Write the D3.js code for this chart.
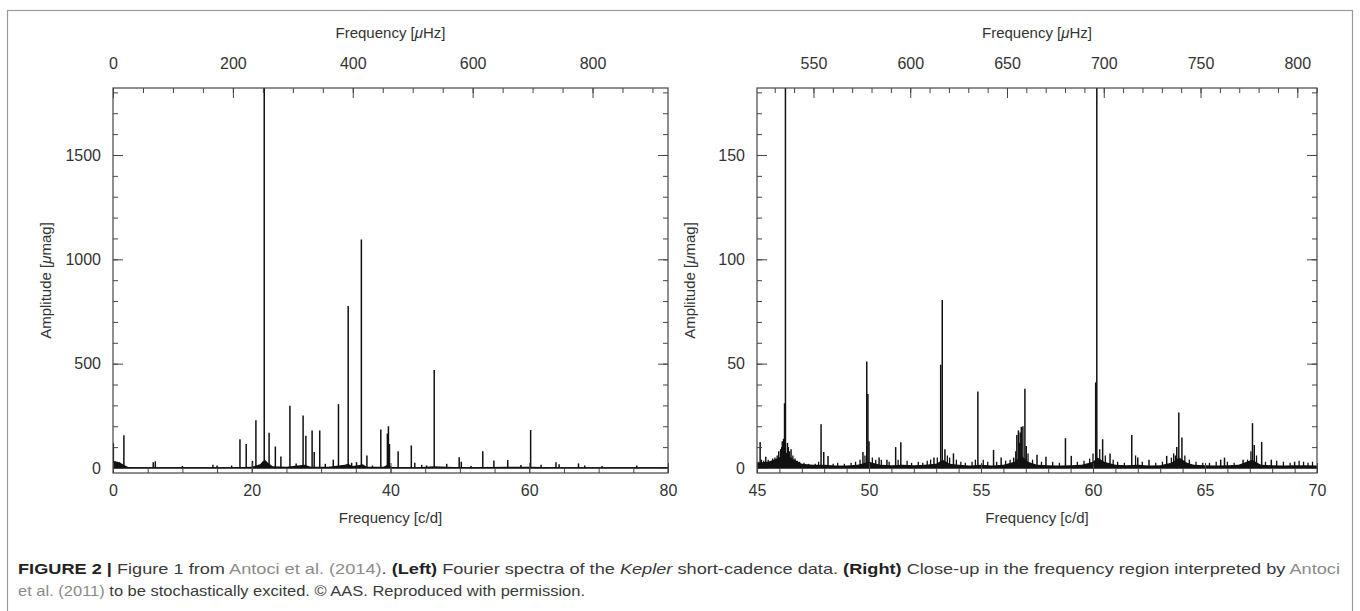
<!DOCTYPE html>
<html lang="en">
<head>
<meta charset="UTF-8">
<title>Kepler Fourier spectra</title>
<script src="https://d3js.org/d3.v7.min.js"></script>
<style>
  body { margin: 0; background: #fff; }
  svg { display: block; }
  .tick text { font-family: "Liberation Sans", Arial, sans-serif; font-size: 16px; fill: #333; }
  .tick line { stroke: #444; stroke-width: 1; }
  .axt { font-family: "Liberation Sans", Arial, sans-serif; font-size: 15px; fill: #333; }
  .cap { font-family: "Liberation Sans Narrow", "Liberation Sans", Arial, sans-serif; font-size: 15px; fill: #3a3a3a; }
</style>
</head>
<body>
<svg width="1360" height="611"></svg>
<script>
// 1 c/d in microHz
const CD2UHZ = 11.574;

// ---- left panel: full spectrum, [freq c/d, amplitude umag]
const leftPeaks = [
  [0.05, 118], [0.3, 32], [0.6, 30], [0.9, 28], [1.57, 157], [5.8, 28], [6.1, 32],
  [10.0, 10], [14.4, 15], [15.0, 12], [17.1, 12], [18.3, 138], [19.2, 115],
  [20.1, 34], [20.6, 229], [21.8, 2300], [22.5, 169], [23.4, 103], [24.2, 55],
  [25.5, 298], [26.4, 22], [27.4, 252], [27.8, 155], [28.7, 180], [29.0, 77], [29.8, 180],
  [30.6, 20], [31.75, 40], [32.5, 306], [33.9, 776], [34.4, 25], [35.1, 28], [35.8, 1095],
  [36.6, 60], [37.4, 12], [38.6, 185], [39.55, 165], [39.7, 200], [39.85, 115],
  [41.1, 80], [43.0, 108], [43.5, 25], [44.5, 15], [45.2, 12], [46.3, 470], [48.1, 20],
  [49.9, 51], [50.2, 30], [51.6, 10], [53.3, 80], [54.9, 36], [56.9, 38], [58.8, 14],
  [60.2, 182], [61.7, 16], [63.85, 27], [64.3, 18], [67.1, 22], [68.0, 12], [70.5, 10], [75.5, 12]
];
const leftFloor = [
  [0, 34], [0.5, 30], [1.0, 26], [1.6, 14], [2.2, 5], [4, 3], [8, 3], [12, 3], [17, 3],
  [20, 6], [21.2, 18], [21.6, 32], [21.9, 40], [22.3, 26], [23, 8], [25, 6], [27.2, 14],
  [27.6, 16], [28.5, 6], [31, 6], [33.4, 16], [33.9, 20], [34.5, 10], [35.5, 14], [36, 18],
  [36.6, 6], [39, 6], [39.7, 18], [40.2, 5], [44, 4], [46.3, 8], [50, 4], [56.9, 6], [60.2, 6],
  [64, 4], [70, 3], [80, 3]
];

// ---- right panel: close-up 45-70 c/d
const rightPeaks = [
  [45.14, 12.5], [45.39, 5.4], [45.97, 8], [46.13, 12.8], [46.23, 31], [46.27, 300],
  [46.36, 12], [46.52, 9], [47.86, 21], [47.98, 7.7], [48.17, 5.8], [49.73, 7.7],
  [49.9, 51], [49.95, 35.4], [50.0, 12.8], [50.45, 5], [50.8, 4], [51.19, 10], [51.42, 12.3],
  [52.9, 5], [53.2, 49.5], [53.27, 80.5], [53.39, 9], [53.77, 7], [54.86, 36.6], [55.56, 8.6],
  [55.9, 5], [56.46, 5], [56.6, 15.8], [56.67, 18], [56.75, 17], [56.8, 19.7], [56.87, 20],
  [56.96, 38], [57.02, 10.5], [57.5, 6.3], [57.9, 5.4], [58.77, 14.3], [59.03, 5.8],
  [60.12, 41], [60.17, 300], [60.43, 13.8], [60.76, 7], [61.73, 15.8], [62.0, 5], [62.5, 4],
  [63.29, 5.8], [63.68, 6], [63.74, 10], [63.83, 26.6], [63.97, 14.6], [65.7, 4], [65.87, 5],
  [66.7, 4], [67.12, 21.5], [67.2, 11], [67.53, 12.5], [67.96, 4], [69.0, 3]
];
const rightGrass = [
  [45.05, 3], [45.2, 4], [45.3, 3.5], [45.5, 4], [45.6, 3], [45.7, 4.5], [45.8, 5], [45.9, 6],
  [46.05, 9], [46.1, 10], [46.18, 14], [46.4, 10], [46.45, 8], [46.6, 6], [46.7, 4.5],
  [46.8, 3.5], [46.9, 3], [47.1, 2.5], [47.3, 2], [47.6, 2], [47.75, 3], [48.4, 2], [48.6, 2.5],
  [48.9, 2], [49.2, 2.5], [49.4, 3], [49.6, 4], [49.82, 6], [50.15, 5], [50.3, 4], [50.55, 4],
  [50.9, 3], [51.3, 4], [51.7, 3.5], [51.9, 2.5], [52.2, 3], [52.4, 2.5], [52.6, 3.5],
  [52.75, 4], [53.05, 5], [53.5, 6], [53.6, 5], [53.9, 4], [54.1, 3], [54.3, 2.5], [54.6, 3],
  [54.75, 4], [55.1, 4], [55.3, 3], [55.7, 3], [56.1, 3.5], [56.3, 4], [56.55, 8], [56.72, 12],
  [57.1, 7], [57.3, 4], [57.7, 3], [58.2, 3], [58.5, 2.5], [59.3, 3], [59.6, 3.5], [59.85, 4.5],
  [60.0, 7], [60.3, 9], [60.55, 6], [60.9, 4], [61.1, 3], [61.4, 2.5], [61.9, 6], [62.2, 3],
  [62.8, 2.5], [63.1, 3], [63.5, 5], [63.6, 7], [64.1, 6], [64.3, 4], [64.6, 3], [64.9, 2.5],
  [65.2, 2.5], [65.5, 3], [66.0, 3], [66.3, 2.5], [66.9, 4], [67.05, 8], [67.3, 6], [67.7, 3],
  [68.2, 3.5], [68.5, 3], [68.8, 2.5], [69.2, 3.5], [69.4, 3], [69.6, 2.5], [69.8, 3]
];
const rightFloor = [
  [45, 2.5], [45.5, 3], [46, 5], [46.25, 8], [46.5, 5], [47, 2], [47.5, 1.5], [48, 1.5],
  [48.5, 1.2], [49, 1.2], [49.5, 1.5], [50, 3], [50.5, 1.5], [51, 1.3], [51.5, 1.5], [52, 1.3],
  [52.5, 1.5], [53, 2], [53.3, 4], [53.6, 2], [54, 1.5], [54.5, 1.2], [55, 1.5], [55.5, 1.2],
  [56, 1.5], [56.5, 3], [56.8, 6], [57.1, 3], [57.5, 1.5], [58, 1.3], [58.5, 1.2], [59, 1.3],
  [59.5, 1.5], [60, 3], [60.2, 5], [60.5, 3], [61, 1.5], [61.5, 1.3], [62, 1.5], [62.5, 1.2],
  [63, 1.3], [63.5, 2.5], [63.85, 5], [64.2, 2.5], [64.5, 1.5], [65, 1.3], [65.5, 1.2],
  [66, 1.3], [66.5, 1.5], [67.1, 4], [67.5, 1.5], [68, 1.3], [68.5, 1.2], [69, 1.3],
  [69.5, 1.3], [70, 1.2]
];

// ticks
const leftBottomMajor = [0, 20, 40, 60, 80];
const leftTopMajor = [0, 200, 400, 600, 800];
const leftYMajor = [0, 500, 1000, 1500];
const rightBottomMajor = [45, 50, 55, 60, 65, 70];
const rightTopMajor = [550, 600, 650, 700, 750, 800];
const rightYMajor = [0, 50, 100, 150];

const svg = d3.select("svg");

// outer frame
svg.append("rect").attr("x", 7.5).attr("y", 10.5).attr("width", 1345).attr("height", 620)
  .attr("fill", "none").attr("stroke", "#9a9a9a").attr("stroke-width", 1.2);

function panel(cfg) {
  const { id, x0, x1, xDom, yDom, peaks, grass, floor, bMajor, bMinorStep, tMajor, tMinorStep, yMajor, yMinorStep } = cfg;
  const top = 88, bot = 473;
  const x = d3.scaleLinear().domain(xDom).range([x0, x1]);
  const xt = d3.scaleLinear().domain(xDom.map(d => d * CD2UHZ)).range([x0, x1]);
  const y = d3.scaleLinear().domain(yDom).range([bot, top]);

  const g = svg.append("g");
  svg.append("clipPath").attr("id", id).append("rect")
    .attr("x", x0).attr("y", top).attr("width", x1 - x0).attr("height", bot - top);
  const plot = g.append("g").attr("clip-path", `url(#${id})`);

  // noise floor
  const area = d3.area().x(d => x(d[0])).y0(y(0)).y1(d => y(d[1]));
  plot.append("path").datum(floor).attr("d", area).attr("fill", "#111");
  // small spikes and peaks
  plot.selectAll("line.g").data(grass).join("line").attr("class", "g")
    .attr("x1", d => x(d[0])).attr("x2", d => x(d[0]))
    .attr("y1", y(0)).attr("y2", d => y(d[1]))
    .attr("stroke", "#111").attr("stroke-width", 1.3);
  plot.selectAll("line.p").data(peaks).join("line").attr("class", "p")
    .attr("x1", d => x(d[0])).attr("x2", d => x(d[0]))
    .attr("y1", y(0)).attr("y2", d => y(d[1]))
    .attr("stroke", "#111").attr("stroke-width", 1.5);
  // baseline
  plot.append("line").attr("x1", x0).attr("x2", x1).attr("y1", y(0)).attr("y2", y(0))
    .attr("stroke", "#111").attr("stroke-width", 1.5);

  const range = (a, b, s) => d3.range(Math.ceil(a / s) * s, b + 1e-9, s).map(v => +v.toFixed(6));
  const tDom = xt.domain();

  const ax = (gen, pos, vals, size, labels, pad) => {
    const sel = g.append("g").attr("transform", pos)
      .call(gen.tickValues(vals).tickSize(size).tickPadding(pad || 3).tickFormat(labels ? d3.format("d") : ""));
    sel.select(".domain").remove();
    return sel;
  };
  // bottom
  ax(d3.axisBottom(x), `translate(0,${bot})`, range(xDom[0], xDom[1], bMinorStep), -5, false);
  ax(d3.axisBottom(x), `translate(0,${bot})`, bMajor, -10, true, 12);
  // top
  ax(d3.axisTop(xt), `translate(0,${top})`, range(tDom[0], tDom[1], tMinorStep), -5, false);
  ax(d3.axisTop(xt), `translate(0,${top})`, tMajor, -10, true, 19);
  // left
  ax(d3.axisLeft(y), `translate(${x0},0)`, range(yDom[0], yDom[1], yMinorStep), -5, false);
  ax(d3.axisLeft(y), `translate(${x0},0)`, yMajor, -10, true, 12);
  // right
  ax(d3.axisRight(y), `translate(${x1},0)`, range(yDom[0], yDom[1], yMinorStep), -5, false);
  ax(d3.axisRight(y), `translate(${x1},0)`, yMajor, -10, false);

  g.append("rect").attr("x", x0).attr("y", top).attr("width", x1 - x0).attr("height", bot - top)
    .attr("fill", "none").attr("stroke", "#444").attr("stroke-width", 1.2);

  const cx = (x0 + x1) / 2;
  const tt = g.append("text").attr("class", "axt").attr("x", cx).attr("y", 38).attr("text-anchor", "middle");
  tt.append("tspan").text("Frequency [");
  tt.append("tspan").attr("font-style", "italic").text("μ");
  tt.append("tspan").text("Hz]");
  g.append("text").attr("class", "axt").attr("x", cx).attr("y", 523).attr("text-anchor", "middle")
    .text("Frequency [c/d]");
  const yl = g.append("text").attr("class", "axt").attr("text-anchor", "middle")
    .attr("transform", `translate(${x0 - 62},${(top + bot) / 2}) rotate(-90)`);
  yl.append("tspan").text("Amplitude [");
  yl.append("tspan").attr("font-style", "italic").text("μ");
  yl.append("tspan").text("mag]");
}

panel({
  id: "clipL", x0: 113, x1: 668, xDom: [0, 80], yDom: [-24, 1821],
  peaks: leftPeaks, grass: [], floor: leftFloor,
  bMajor: leftBottomMajor, bMinorStep: 5, tMajor: leftTopMajor, tMinorStep: 50,
  yMajor: leftYMajor, yMinorStep: 100
});
panel({
  id: "clipR", x0: 757, x1: 1317, xDom: [45, 70], yDom: [-2.4, 182.1],
  peaks: rightPeaks, grass: rightGrass, floor: rightFloor,
  bMajor: rightBottomMajor, bMinorStep: 1, tMajor: rightTopMajor, tMinorStep: 10,
  yMajor: rightYMajor, yMinorStep: 10
});

// caption
const link = "#8a8a8a";
const c1 = svg.append("text").attr("class", "cap").attr("x", 18).attr("y", 574)
  .attr("textLength", 1322).attr("lengthAdjust", "spacingAndGlyphs");
[["FIGURE 2 | ", "bold", null, "#222"], ["Figure 1 from ", null, null, null], ["Antoci et al. (2014)", null, null, link],
 [". ", null, null, null], ["(Left)", "bold", null, "#222"], [" Fourier spectra of the ", null, null, null],
 ["Kepler", null, "italic", null], [" short-cadence data. ", null, null, null], ["(Right)", "bold", null, "#222"],
 [" Close-up in the frequency region interpreted by ", null, null, null], ["Antoci", null, null, link]]
  .forEach(([t, w, s, c]) => {
    const ts = c1.append("tspan").text(t);
    if (w) ts.attr("font-weight", w);
    if (s) ts.attr("font-style", s);
    if (c) ts.attr("fill", c);
  });
const c2 = svg.append("text").attr("class", "cap").attr("x", 18).attr("y", 596)
  .attr("textLength", 567).attr("lengthAdjust", "spacingAndGlyphs");
c2.append("tspan").attr("fill", link).text("et al. (2011)");
c2.append("tspan").text(" to be stochastically excited. © AAS. Reproduced with permission.");
</script>
</body>
</html>
